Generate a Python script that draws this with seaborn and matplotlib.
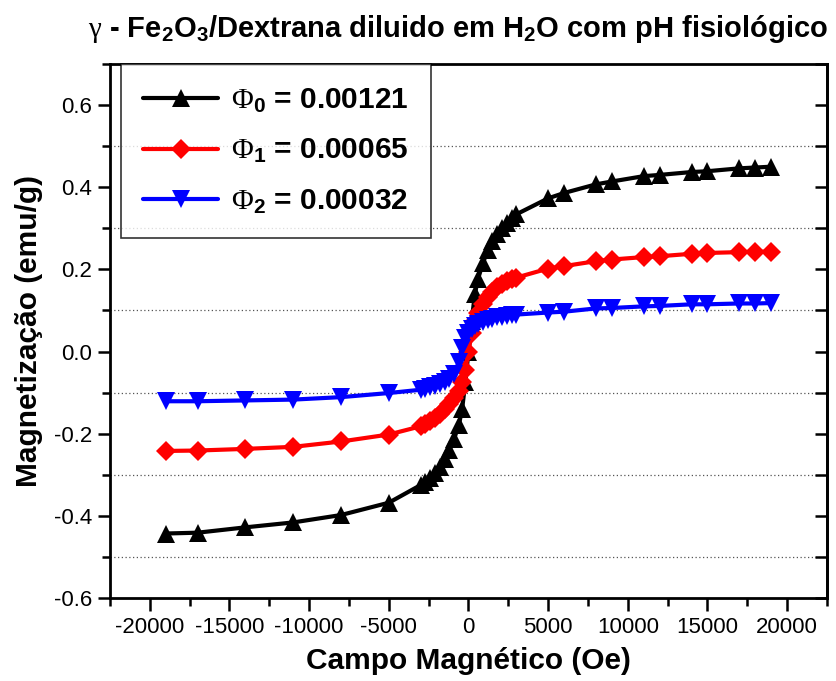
import matplotlib
matplotlib.use("Agg")
import matplotlib.pyplot as plt
import seaborn as sns
import pandas as pd
from matplotlib.ticker import MultipleLocator

# ---- data ----
field = [-19000, -17000, -14000, -11000, -8000, -5000, -3000, -2700, -2400, -2100,
         -1800, -1500, -1200, -900, -600, -400, -200, 0, 200, 400, 600, 900, 1200,
         1500, 1800, 2100, 2400, 2700, 3000, 5000, 6000, 8000, 9000, 11000, 12000,
         14000, 15000, 17000, 18000, 19000]
m_phi0 = [-0.443, -0.441, -0.428, -0.416, -0.398, -0.368, -0.325, -0.318, -0.308, -0.296,
          -0.280, -0.262, -0.240, -0.212, -0.178, -0.140, -0.075, 0.0, 0.075, 0.140,
          0.177, 0.215, 0.246, 0.268, 0.286, 0.300, 0.313, 0.324, 0.334, 0.373, 0.386,
          0.407, 0.414, 0.427, 0.430, 0.437, 0.439, 0.446, 0.448, 0.450]
m_phi1 = [-0.242, -0.241, -0.237, -0.232, -0.219, -0.202, -0.182, -0.177, -0.170, -0.162,
          -0.152, -0.141, -0.128, -0.113, -0.095, -0.075, -0.045, 0.0, 0.045, 0.075,
          0.095, 0.115, 0.132, 0.146, 0.156, 0.164, 0.171, 0.176, 0.180, 0.202, 0.208,
          0.220, 0.224, 0.230, 0.232, 0.238, 0.240, 0.242, 0.243, 0.243]
m_phi2 = [-0.121, -0.121, -0.119, -0.117, -0.111, -0.101, -0.093, -0.090, -0.087, -0.083,
          -0.079, -0.074, -0.067, -0.054, -0.025, 0.008, 0.033, 0.046, 0.054, 0.061,
          0.066, 0.072, 0.076, 0.080, 0.083, 0.085, 0.087, 0.088, 0.090, 0.095, 0.097,
          0.105, 0.106, 0.110, 0.111, 0.115, 0.115, 0.117, 0.117, 0.118]
series_labels = [r'$\Phi_{\mathbf{0}}$ = 0.00121',
                 r'$\Phi_{\mathbf{1}}$ = 0.00065',
                 r'$\Phi_{\mathbf{2}}$ = 0.00032']
colors = ['black', 'red', 'blue']
markers = ['^', 'D', 'v']
x_ticks = [-20000, -15000, -10000, -5000, 0, 5000, 10000, 15000, 20000]
y_ticks = [-0.6, -0.4, -0.2, 0.0, 0.2, 0.4, 0.6]

sns.set_theme(style="white")
plt.rcParams['font.family'] = ['Liberation Sans', 'DejaVu Sans']
plt.rcParams['mathtext.fontset'] = 'custom'
plt.rcParams['mathtext.rm'] = 'Liberation Serif'
plt.rcParams['mathtext.bf'] = 'Liberation Sans:bold'
plt.rcParams['mathtext.it'] = 'Liberation Serif:italic'
for k in ['text.color', 'axes.labelcolor', 'xtick.color', 'ytick.color', 'axes.edgecolor']:
    plt.rcParams[k] = 'black'

fig = plt.figure(figsize=(8.36, 6.81), dpi=100)
ax = fig.add_axes([110/836, 1 - 598/681, (827-110)/836, (598-64)/681])

frames = []
for lab, m in zip(series_labels, [m_phi0, m_phi1, m_phi2]):
    frames.append(pd.DataFrame({'H': field, 'M': m, 'serie': lab}))
df = pd.concat(frames, ignore_index=True)

for lab, c, mk in zip(series_labels, colors, markers):
    sub = df[df['serie'] == lab]
    sns.lineplot(data=sub, x='H', y='M', ax=ax, color=c, marker=mk,
                 markersize=12.5 if mk != 'D' else 10.5, markeredgewidth=0,
                 linewidth=3, sort=False, label=lab, estimator=None)

ax.set_xlim(-22500, 22500)
ax.set_ylim(-0.6, 0.7)
ax.set_xticks(x_ticks)
ax.set_xticklabels([f"{v:d}" for v in x_ticks])
ax.set_yticks(y_ticks)
ax.set_yticklabels([f"{v:.1f}" for v in y_ticks])
ax.xaxis.set_minor_locator(MultipleLocator(2500))
ax.yaxis.set_minor_locator(MultipleLocator(0.1))

ax.grid(False)
for yv in [-0.5, -0.3, -0.1, 0.1, 0.3, 0.5]:
    ax.axhline(yv, color='#555555', linestyle=(0, (1, 2)), linewidth=0.9, zorder=0)

for s in ax.spines.values():
    s.set_visible(True)
    s.set_color('black')
    s.set_linewidth(2)

ax.tick_params(axis='x', which='major', direction='out', length=9, width=1.8,
               labelsize=16, pad=5, bottom=True, top=False, colors='black')
ax.tick_params(axis='x', which='minor', direction='out', length=6, width=1.8,
               bottom=True, top=False)
ax.tick_params(axis='y', which='major', direction='out', length=9, width=1.8,
               labelsize=16, pad=4, left=True, right=False, colors='black')
ax.tick_params(axis='y', which='minor', direction='out', length=6, width=1.8,
               left=True, right=False)
# right-side inward ticks
ax2 = ax.secondary_yaxis('right')
ax2.set_yticks(y_ticks)
ax2.yaxis.set_minor_locator(MultipleLocator(0.1))
ax2.tick_params(axis='y', which='both', direction='in', length=9, width=1.8, labelright=False)
ax2.spines['right'].set_linewidth(2)

ax.set_xlabel('Campo Magnético (Oe)', fontsize=21.5, fontweight='bold', labelpad=6)
ax.set_ylabel('Magnetização (emu/g)', fontsize=21.5, fontweight='bold', labelpad=8)

fig.text(0.548, 0.958,
         r'$\mathrm{\gamma}$ - Fe$_{\mathbf{2}}$O$_{\mathbf{3}}$/Dextrana diluido em H$_{\mathbf{2}}$O com pH fisiológico',
         ha='center', va='center', fontsize=21, fontweight='bold')

leg = ax.legend(loc='upper left', bbox_to_anchor=(11/717, 1.0), borderaxespad=0,
                prop={'weight': 'bold', 'size': 21.5}, frameon=True, fancybox=False,
                edgecolor='black', handlelength=2.5, handletextpad=0.45,
                labelspacing=0.75, borderpad=0.75)
leg.get_frame().set_linewidth(1.2)

fig.savefig('out.png', dpi=100)
